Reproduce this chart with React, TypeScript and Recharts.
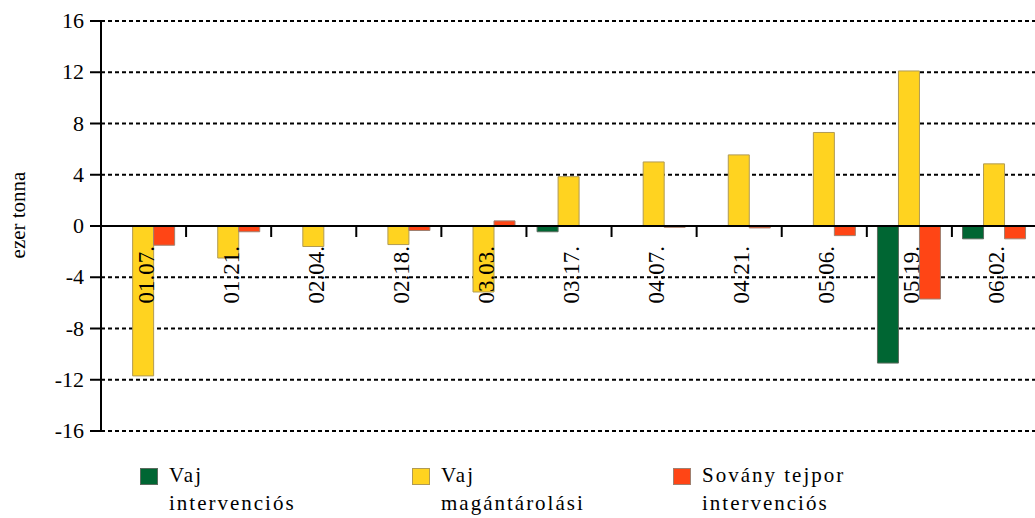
import React from "react";
import {
  BarChart, Bar, XAxis, YAxis, CartesianGrid, ReferenceLine, Label,
} from "recharts";

const categories = ["01.07.", "01.21.", "02.04.", "02.18.", "03.03.", "03.17.", "04.07.", "04.21.", "05.06.", "05.19.", "06.02."];
const vajIntervencios = [0, 0, 0, 0, 0, -0.45, 0, 0, 0, -10.7, -1.0];
const vajMagantarolasi = [-11.7, -2.5, -1.6, -1.45, -5.15, 3.85, 5.0, 5.55, 7.3, 12.1, 4.85];
const sovanyTejpor = [-1.5, -0.45, 0, -0.35, 0.4, 0, -0.1, -0.15, -0.75, -5.7, -1.0];
const yTicks = [-16, -12, -8, -4, 0, 4, 8, 12, 16];

const seriesDefs = [
  { key: "green", label: ["Vaj", "intervenciós"], color: "#006633", stroke: "#5b6b5e" },
  { key: "yellow", label: ["Vaj", "magántárolási"], color: "#FFD320", stroke: "#b09a55" },
  { key: "red", label: ["Sovány tejpor", "intervenciós"], color: "#FF4515", stroke: "#a08070" },
];

const data = categories.map((c, i) => ({
  cat: c,
  green: vajIntervencios[i],
  yellow: vajMagantarolasi[i],
  red: sovanyTejpor[i],
}));

const FONT = "Liberation Serif";
const W = 1040;
const H = 518;
const TOP = 21;
const BOTTOM = 86;
const Y_W = 101;
const RIGHT = 3;
const PLOT_H = H - TOP - BOTTOM - 1;
const ZERO_Y = TOP + PLOT_H / 2;
const BAND = (W - Y_W - RIGHT) / categories.length;

// category label + small tick between categories, hung from the zero line
const CatTick = (props: any) => {
  const { x, payload, index } = props;
  return (
    <g>
      {index < categories.length - 1 && (
        <line x1={x + BAND / 2} x2={x + BAND / 2} y1={ZERO_Y} y2={ZERO_Y + 11} stroke="#000" strokeWidth={2} />
      )}
      <text
        transform={`translate(${x + 10},${ZERO_Y + 20}) rotate(-90)`}
        textAnchor="end"
        fontFamily={FONT}
        fontSize={23}
        fill="#000"
      >
        {payload.value}
      </text>
    </g>
  );
};

const YTick = (props: any) => {
  const { x, y, payload } = props;
  return (
    <text x={x + 1} y={y} dy={7} textAnchor="end" fontFamily={FONT} fontSize={22} fill="#000">
      {payload.value}
    </text>
  );
};

export default function App() {
  return (
    <div style={{ position: "absolute", left: 0, top: 0, width: 1035, height: 518, overflow: "hidden", background: "#fff" }}>
      <BarChart
        width={W}
        height={H}
        data={data}
        margin={{ top: TOP, right: RIGHT, left: 0, bottom: BOTTOM }}
        barCategoryGap="12.5%"
        barGap={0}
      >
        <CartesianGrid vertical={false} stroke="#000" strokeWidth={2} strokeDasharray="4 3" />
        <YAxis
          domain={[-16, 16]}
          ticks={yTicks}
          width={Y_W}
          interval={0}
          tick={<YTick />}
          tickSize={11}
          tickMargin={7}
          axisLine={{ stroke: "#000", strokeWidth: 2 }}
          tickLine={{ stroke: "#000", strokeWidth: 2 }}
        >
          <Label
            content={() => (
              <text transform="translate(25,215) rotate(-90)" textAnchor="middle" fontFamily={FONT} fontSize={21} fill="#000">
                ezer tonna
              </text>
            )}
          />
        </YAxis>
        <XAxis
          dataKey="cat"
          height={1}
          interval={0}
          axisLine={false}
          tickLine={false}
          tick={<CatTick />}
        />
        {seriesDefs.map((s) => (
          <Bar
            key={s.key}
            dataKey={s.key}
            fill={s.color}
            stroke={s.stroke}
            strokeWidth={1}
            isAnimationActive={false}
          />
        ))}
        <ReferenceLine y={0} stroke="#000" strokeWidth={2} />
      </BarChart>
      {seriesDefs.map((s, i) => {
        const left = [140, 412, 673][i];
        return (
          <div key={s.key} style={{ position: "absolute", left, top: 466, display: "flex" }}>
            <div style={{ width: 18, height: 17, background: s.color, border: `1px solid ${s.stroke}`, boxSizing: "border-box", marginTop: 2 }} />
            <div style={{ marginLeft: 11, fontFamily: '"Liberation Serif"', fontSize: 21, lineHeight: "28px", letterSpacing: 2, color: "#000", marginTop: -5 }}>
              <div>{s.label[0]}</div>
              <div>{s.label[1]}</div>
            </div>
          </div>
        );
      })}
    </div>
  );
}
